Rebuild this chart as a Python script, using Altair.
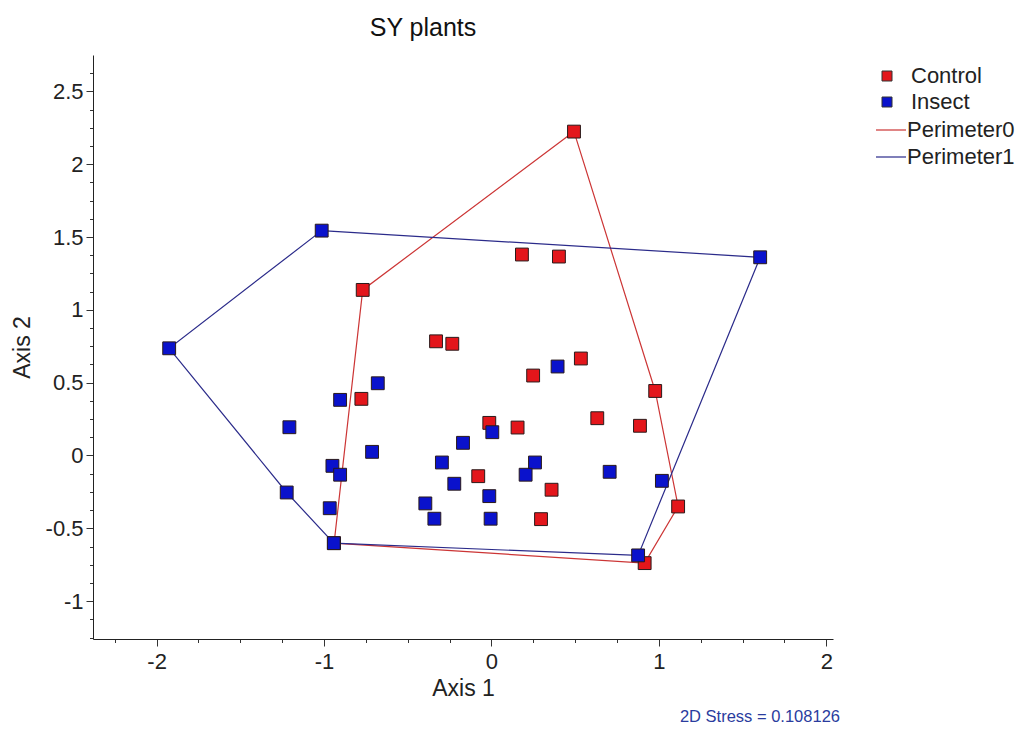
import altair as alt
import pandas as pd

# ---- data ----
control_x = [0.493, 0.182, 0.403, -0.769, -0.331, -0.234, 0.534, 0.249, 0.978, -0.777,
             0.632, 0.887, -0.013, 0.156, -0.079, 0.359, 0.296, 1.115, 0.915, -0.940]
control_y = [2.224, 1.380, 1.366, 1.137, 0.784, 0.767, 0.666, 0.549, 0.443, 0.389,
             0.256, 0.204, 0.224, 0.192, -0.142, -0.235, -0.437, -0.350, -0.739, -0.602]

insect_x = [0.395, -0.679, -0.904, -1.207, 0.005, -0.170, -0.713, -0.296, -0.950, -0.904,
            0.260, 0.204, 0.706, 1.018, -0.222, -1.223, -0.013, -0.395, -0.966, -0.341,
            -0.005, -0.942, 0.876, -1.014, -1.925, 1.605]
insect_y = [0.611, 0.496, 0.382, 0.194, 0.160, 0.087, 0.025, -0.048, -0.071, -0.132,
            -0.048, -0.132, -0.112, -0.174, -0.194, -0.254, -0.279, -0.329, -0.362, -0.434,
            -0.434, -0.602, -0.686, 1.544, 0.736, 1.361]

perimeter0_x = [0.493, 0.978, 1.115, 0.915, -0.940, -0.769, 0.493]
perimeter0_y = [2.224, 0.443, -0.350, -0.739, -0.602, 1.137, 2.224]
perimeter1_x = [-1.014, 1.605, 0.876, -0.942, -1.223, -1.925, -1.014]
perimeter1_y = [1.544, 1.361, -0.686, -0.602, -0.254, 0.736, 1.544]

point_groups = ["Control", "Insect"]
point_colors = ["#e3161b", "#0a12cc"]
line_groups = ["Perimeter0", "Perimeter1"]
line_colors = ["#cc3535", "#2b2b8a"]

x_major = [-2, -1, 0, 1, 2]
y_major = [-1, -0.5, 0, 0.5, 1, 1.5, 2, 2.5]
x_minor = [-2.25 + 0.25 * i for i in range(18)]
y_minor = [-1.25 + 0.125 * i for i in range(32)]

stress_text = "2D Stress = 0.108126"
title_text = "SY plants"

# ---- tables ----
points_df = pd.concat([
    pd.DataFrame({"x": control_x, "y": control_y, "group": "Control"}),
    pd.DataFrame({"x": insect_x, "y": insect_y, "group": "Insect"}),
], ignore_index=True)

lines_df = pd.concat([
    pd.DataFrame({"x": perimeter0_x, "y": perimeter0_y, "group": "Perimeter0",
                  "order": list(range(len(perimeter0_x)))}),
    pd.DataFrame({"x": perimeter1_x, "y": perimeter1_y, "group": "Perimeter1",
                  "order": list(range(len(perimeter1_x)))}),
], ignore_index=True)

FONT = "Liberation Sans"
xs = alt.Scale(domain=[-2.38, 2.04], nice=False, zero=False)
ys = alt.Scale(domain=[-1.26, 2.75], nice=False, zero=False)

common_axis = dict(grid=False, labelFont=FONT, titleFont=FONT, labelFontSize=22,
                   titleFontSize=23, titleFontWeight="normal", labelColor="#222",
                   titleColor="#222", domainColor="#222", tickColor="#333",
                   labelFlush=False, labelOverlap=False, labelExpr="'' + datum.value")

x_axis = alt.Axis(values=x_major, title="Axis 1", orient="bottom", tickSize=7,
                  labelPadding=5, titlePadding=5, **common_axis)
y_axis = alt.Axis(values=y_major, title="Axis 2", orient="left", tickSize=7,
                  labelPadding=3, titlePadding=11, **common_axis)

lines = alt.Chart(lines_df).mark_line(strokeWidth=1.2).encode(
    x=alt.X("x:Q", scale=xs, axis=x_axis),
    y=alt.Y("y:Q", scale=ys, axis=y_axis),
    stroke=alt.Stroke("group:N",
                      scale=alt.Scale(domain=line_groups, range=line_colors),
                      legend=alt.Legend(title=None, orient="none", legendX=782, legendY=59,
                                        symbolType="stroke", symbolSize=900,
                                        symbolStrokeWidth=1.2, labelOffset=0,
                                        labelFont=FONT, labelFontSize=22, labelColor="#222",
                                        rowPadding=-1.5, padding=0)),
    detail="group:N",
    order="order:Q",
)

points = alt.Chart(points_df).mark_point(
    shape="square", filled=True, size=165, opacity=1, stroke="#2a1a1a", strokeWidth=1
).encode(
    x=alt.X("x:Q", scale=xs, axis=None),
    y=alt.Y("y:Q", scale=ys, axis=None),
    fill=alt.Fill("group:N",
                  scale=alt.Scale(domain=point_groups, range=point_colors),
                  legend=alt.Legend(title=None, orient="none", legendX=783, legendY=10,
                                    symbolType="square", symbolSize=100,
                                    symbolStrokeColor="#333", symbolStrokeWidth=1,
                                    labelOffset=13, labelFont=FONT, labelFontSize=22,
                                    labelColor="#222", rowPadding=4, padding=0)),
)

minor = alt.Chart(points_df).mark_point(opacity=0).encode(
    x=alt.X("x:Q", scale=xs,
            axis=alt.Axis(values=x_minor, labels=False, domain=False, ticks=True,
                          tickSize=3.5, grid=False, title=None, orient="bottom",
                          tickColor="#333")),
    y=alt.Y("y:Q", scale=ys,
            axis=alt.Axis(values=y_minor, labels=False, domain=False, ticks=True,
                          tickSize=3.5, grid=False, title=None, orient="left",
                          tickColor="#333")),
)

stress = alt.Chart(pd.DataFrame({"label": [stress_text]})).mark_text(
    align="right", baseline="middle", fontSize=16.5, font=FONT, color="#2a3c9e"
).encode(
    x=alt.value(747), y=alt.value(662), text="label:N"
)

chart = alt.layer(minor, lines, points, stress).resolve_axis(
    x="independent", y="independent"
).properties(
    width=740, height=584,
    title=alt.Title(title_text, font=FONT, fontSize=25, fontWeight="normal",
                    color="#111", anchor="middle", frame="group", dx=-40, offset=14),
    autosize=alt.AutoSizeParams(type="none"),
    padding={"left": 85, "top": 47, "right": 195, "bottom": 90},
).configure(background="white").configure_view(stroke="transparent", strokeWidth=0)

chart.save("out.html", embed_options={"renderer": "svg", "actions": False})
